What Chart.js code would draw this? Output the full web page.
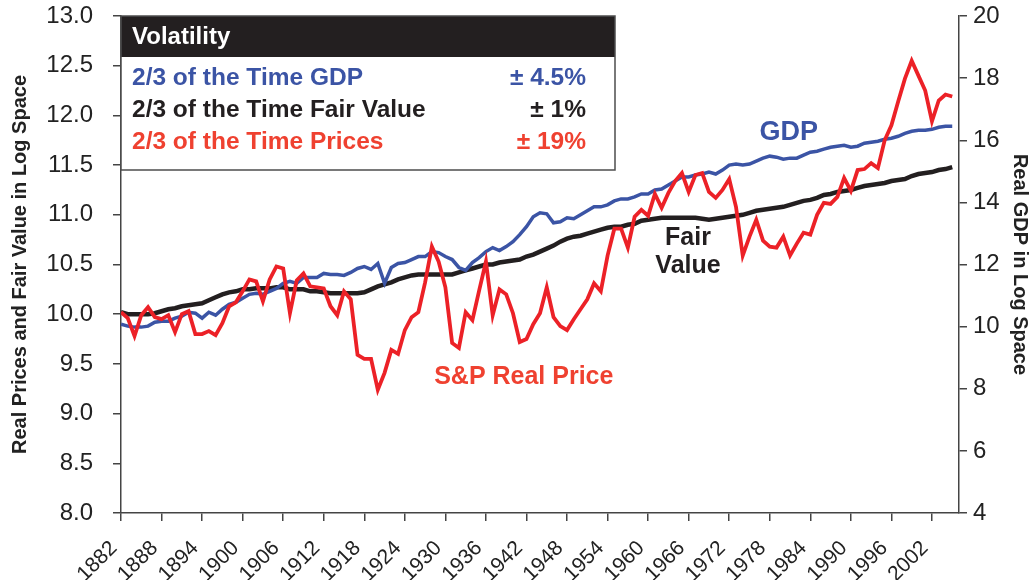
<!DOCTYPE html>
<html><head><meta charset="utf-8">
<script src="https://cdn.jsdelivr.net/npm/chart.js@4.4.1/dist/chart.umd.min.js"></script>
<style>html,body{margin:0;padding:0;background:#fff}canvas{display:block}</style>
</head><body>
<canvas id="c" width="1032" height="580"></canvas>
<script>
const startYear = 1882;
// S&P real price (log space), 1882-2005
const spReal = [
 10.02, 9.96, 9.78, 9.99, 10.07, 9.97, 9.95, 9.99,           // 1882-1889
 9.82, 10.00, 10.03, 9.80, 9.80, 9.83, 9.79, 9.91, 10.08, 10.12, // 1890s
 10.23, 10.35, 10.33, 10.13, 10.35, 10.48, 10.46, 10.01, 10.34, 10.41, // 1900s
 10.28, 10.27, 10.26, 10.08, 9.99, 10.23, 10.15, 9.59, 9.55, 9.55, // 1910s
 9.24, 9.41, 9.64, 9.60, 9.84, 9.97, 10.02, 10.32, 10.68, 10.53, // 1920s
 10.27, 9.71, 9.66, 10.02, 9.94, 10.24, 10.53, 9.99, 10.25, 10.20, // 1930s
 10.01, 9.72, 9.75, 9.90, 10.01, 10.27, 9.97, 9.88, 9.84, 9.95, // 1940s
 10.05, 10.15, 10.31, 10.23, 10.59, 10.86, 10.86, 10.67, 10.98, 11.05, // 1950s
 10.99, 11.21, 11.07, 11.22, 11.34, 11.42, 11.23, 11.40, 11.42, 11.23, // 1960s
 11.17, 11.25, 11.36, 11.08, 10.59, 10.78, 10.95, 10.74, 10.68, 10.67, // 1970s
 10.78, 10.59, 10.71, 10.82, 10.80, 11.00, 11.12, 11.11, 11.18, 11.37, // 1980s
 11.24, 11.45, 11.46, 11.52, 11.47, 11.75, 11.90, 12.14, 12.37, 12.55, // 1990s
 12.40, 12.25, 11.94, 12.15, 12.21, 12.19                      // 2000-2005
];
// Real GDP (log space, drawn against left scale units)
const gdp = [
 9.90, 9.88, 9.87, 9.87, 9.88, 9.92, 9.93, 9.93,
 9.96, 9.98, 10.02, 10.01, 9.96, 10.02, 9.99, 10.05, 10.10, 10.12,
 10.16, 10.20, 10.21, 10.20, 10.23, 10.26, 10.31, 10.33, 10.31, 10.37,
 10.37, 10.37, 10.41, 10.40, 10.40, 10.39, 10.42, 10.46, 10.48, 10.45,
 10.51, 10.31, 10.47, 10.51, 10.52, 10.55, 10.58, 10.58, 10.63, 10.62,
 10.58, 10.55, 10.47, 10.44, 10.52, 10.57, 10.63, 10.67, 10.64, 10.68,
 10.73, 10.80, 10.88, 10.98, 11.02, 11.01, 10.92, 10.93, 10.97, 10.96,
 11.00, 11.04, 11.08, 11.08, 11.10, 11.14, 11.16, 11.16, 11.18, 11.21,
 11.21, 11.25, 11.26, 11.30, 11.34, 11.38, 11.38, 11.40, 11.41, 11.43,
 11.41, 11.45, 11.50, 11.51, 11.50, 11.51, 11.54, 11.57, 11.59, 11.58,
 11.56, 11.57, 11.57, 11.60, 11.63, 11.64, 11.66, 11.68, 11.69, 11.70,
 11.68, 11.69, 11.72, 11.73, 11.74, 11.76, 11.77, 11.79, 11.82, 11.84,
 11.85, 11.85, 11.86, 11.88, 11.89, 11.89
];
// Fair value (log space)
const fairValue = [
 10.02, 10.00, 10.00, 10.00, 10.00, 10.01, 10.03, 10.05,
 10.06, 10.08, 10.09, 10.10, 10.11, 10.14, 10.17, 10.20, 10.22, 10.23,
 10.25, 10.25, 10.26, 10.26, 10.26, 10.27, 10.27, 10.25, 10.25, 10.25,
 10.23, 10.23, 10.22, 10.21, 10.21, 10.21, 10.21, 10.21, 10.22, 10.25,
 10.28, 10.30, 10.32, 10.35, 10.37, 10.39, 10.40, 10.40, 10.40, 10.40,
 10.40, 10.40, 10.42, 10.44, 10.46, 10.48, 10.50, 10.50, 10.52, 10.53,
 10.54, 10.55, 10.58, 10.60, 10.63, 10.66, 10.69, 10.73, 10.76, 10.78,
 10.79, 10.81, 10.83, 10.85, 10.87, 10.88, 10.88, 10.90, 10.91, 10.94,
 10.95, 10.96, 10.97, 10.97, 10.97, 10.97, 10.97, 10.97, 10.96, 10.95,
 10.96, 10.97, 10.98, 10.99, 11.00, 11.02, 11.04, 11.05, 11.06, 11.07,
 11.08, 11.10, 11.12, 11.14, 11.15, 11.17, 11.20, 11.21, 11.23, 11.24,
 11.25, 11.27, 11.29, 11.30, 11.31, 11.32, 11.34, 11.35, 11.36, 11.39,
 11.41, 11.42, 11.43, 11.45, 11.46, 11.48
];
const xTickYears = [1882,1888,1894,1900,1906,1912,1918,1924,1930,1936,1942,1948,1954,1960,1966,1972,1978,1984,1990,1996,2002];
const seriesNames = ['S&P Real Price', 'GDP', 'Fair Value'];
const legendTitle = 'Volatility';
const legendLabels = ['2/3 of the Time GDP', '2/3 of the Time Fair Value', '2/3 of the Time Prices'];
const legendValues = ['± 4.5%', '± 1%', '± 19%'];
const leftAxisTitle = 'Real Prices and Fair Value in Log Space';
const rightAxisTitle = 'Real GDP in Log Space';

const FONT = '"Liberation Sans", Arial, Helvetica, sans-serif';
const RED = '#ec2127', BLUE = '#3b54a5', BLACK = '#231f20', TXTRED = '#ef4130';
const toPts = arr => arr.map((v, i) => ({x: startYear + i, y: v}));

const notes = [
  {lines: ['GDP'], x: 1980.8, y: 11.83, color: BLUE, size: 27},
  {lines: ['Fair', 'Value'], x: 1965.9, y: 10.62, color: BLACK, size: 25},
  {lines: ['S&P Real Price'], x: 1941.6, y: 9.37, color: TXTRED, size: 25}
];

const overlay = {
  id: 'overlay',
  afterDatasetsDraw(chart) {
    const {ctx, chartArea: ca, scales} = chart;
    const xs = scales.x, ys = scales.y;
    ctx.save();
    ctx.textAlign = 'center'; ctx.textBaseline = 'middle';
    notes.forEach(n => {
      ctx.font = 'bold ' + n.size + 'px ' + FONT;
      const px = xs.getPixelForValue(n.x), py = ys.getPixelForValue(n.y);
      ctx.fillStyle = n.color;
      const lh = 28, y0 = py - (n.lines.length - 1) * lh / 2;
      n.lines.forEach((t, i) => ctx.fillText(t, px, y0 + i * lh));
    });
    const bx = ca.left, by = ca.top, bw = 494, bh = 154, hh = 41;
    ctx.fillStyle = '#fff'; ctx.fillRect(bx, by, bw, bh);
    ctx.fillStyle = BLACK; ctx.fillRect(bx, by, bw, hh);
    ctx.strokeStyle = '#4d4d4d'; ctx.lineWidth = 1.5; ctx.strokeRect(bx, by, bw, bh);
    ctx.textBaseline = 'middle';
    ctx.font = 'bold 24px ' + FONT;
    ctx.fillStyle = '#fff'; ctx.textAlign = 'left';
    ctx.fillText(legendTitle, bx + 11, by + hh / 2 + 1);
    ctx.font = 'bold 24.5px ' + FONT;
    const cols = [BLUE, BLACK, TXTRED];
    legendLabels.forEach((t, i) => {
      const yy = by + 62 + i * 32;
      ctx.fillStyle = cols[i];
      ctx.textAlign = 'left'; ctx.fillText(t, bx + 11, yy);
      ctx.textAlign = 'right'; ctx.fillText(legendValues[i], bx + 465, yy);
    });
    ctx.restore();
  }
};

const axisGrid = {display: true, drawOnChartArea: false, drawTicks: true, tickLength: 8, color: '#444', lineWidth: 1.5};
const axisBorder = {display: true, color: '#444', width: 1.5};
const fitV = w => s => { s.width = w; s.paddingTop = 0; s.paddingBottom = 0; };

new Chart(document.getElementById('c'), {
  type: 'line',
  data: {
    datasets: [
      {label: seriesNames[0], data: toPts(spReal), borderColor: RED, borderWidth: 3.8, pointRadius: 0, tension: 0, order: 1, yAxisID: 'y'},
      {label: seriesNames[1], data: toPts(gdp), borderColor: BLUE, borderWidth: 3.5, pointRadius: 0, tension: 0, order: 2, yAxisID: 'y'},
      {label: seriesNames[2], data: toPts(fairValue), borderColor: BLACK, borderWidth: 4.5, pointRadius: 0, tension: 0, order: 3, yAxisID: 'y'}
    ]
  },
  options: {
    responsive: false, animation: false, devicePixelRatio: 1,
    layout: {padding: {top: 16, right: 0, bottom: 0, left: 0}},
    plugins: {legend: {display: false}, tooltip: {enabled: false}},
    scales: {
      x: {
        type: 'linear', min: 1882, max: 2006,
        afterBuildTicks: s => { s.ticks = xTickYears.map(v => ({value: v})); },
        afterFit: s => { s.height = 67; s.paddingLeft = 0; s.paddingRight = 0; },
        ticks: {autoSkip: false, minRotation: 45, maxRotation: 45, color: '#222', font: {size: 21, family: FONT}, padding: 15, labelOffset: -7, callback: v => String(v)},
        grid: axisGrid, border: axisBorder
      },
      y: {
        position: 'left', min: 8, max: 13,
        afterFit: fitV(121),
        ticks: {stepSize: 0.5, color: '#222', font: {size: 24, family: FONT}, padding: 20, callback: v => v.toFixed(1)},
        title: {display: true, text: leftAxisTitle, color: '#222', font: {size: 20, weight: 'bold', family: FONT}, padding: {top: 8, bottom: 0}},
        grid: axisGrid, border: axisBorder
      },
      y1: {
        position: 'right', min: 4, max: 20,
        afterFit: fitV(73),
        ticks: {stepSize: 2, color: '#222', font: {size: 24, family: FONT}, padding: 6, callback: v => String(v)},
        title: {display: true, text: rightAxisTitle, color: '#222', font: {size: 20, weight: 'bold', family: FONT}, padding: {top: 0, bottom: 0}},
        grid: axisGrid, border: axisBorder
      }
    }
  },
  plugins: [overlay]
});
</script>
</body></html>
